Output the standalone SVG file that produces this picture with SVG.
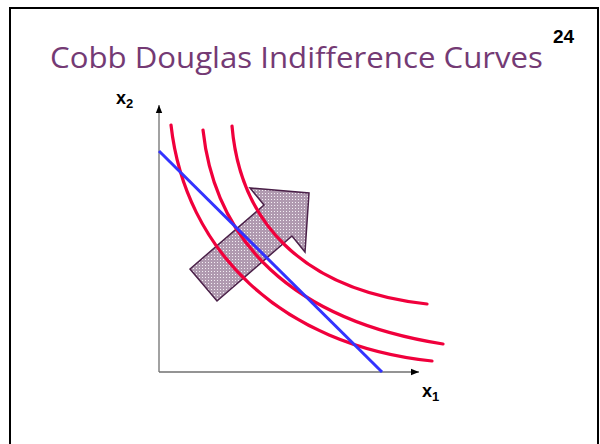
<svg xmlns="http://www.w3.org/2000/svg" width="600" height="444" viewBox="0 0 600 444">
<style>
.lbl{font-family:"Liberation Sans",Arial,sans-serif;font-weight:bold;fill:#000}
.ic{fill:none;stroke:#f0003c;stroke-width:3.2;stroke-linecap:round}
.axis{stroke:#707070;stroke-width:1.3;fill:none}
</style>
<defs>
<pattern id="dots" width="3" height="3" patternUnits="userSpaceOnUse">
<rect width="3" height="3" fill="#b09ab0"/>
<rect x="1" y="1" width="1" height="1" fill="#f4eef4"/>
</pattern>
<marker id="ah" viewBox="0 0 10 10" refX="10" refY="5" markerWidth="8" markerHeight="8" markerUnits="userSpaceOnUse" orient="auto">
<path d="M0,1 L10,5 L0,9 Z" fill="#000"/>
</marker>
</defs>
<rect width="600" height="444" fill="#fff"/>
<rect x="10" y="8" width="588" height="450" fill="none" stroke="#000" stroke-width="2"/>
<text x="50" y="68" font-family="'Open Sans','Liberation Sans',Arial,sans-serif" font-size="29" fill="#743a74" textLength="493" lengthAdjust="spacingAndGlyphs">Cobb Douglas Indifference Curves</text>
<text class="lbl" x="553" y="43" font-size="19">24</text>
<g id="axes">
<line class="axis" x1="159" y1="372" x2="159" y2="105" marker-end="url(#ah)"/>
<line class="axis" x1="159" y1="372" x2="419" y2="372" marker-end="url(#ah)"/>
<text class="lbl" x="116" y="104" font-size="18">x<tspan font-size="13" dy="4">2</tspan></text>
<text class="lbl" x="422" y="397" font-size="18">x<tspan font-size="13" dy="4">1</tspan></text>
</g>
<g id="bigarrow">
<polygon points="190,269 264,205 250,188 309,193 305,252 292,236 217,301" fill="url(#dots)" stroke="#4a2048" stroke-width="1.5" stroke-linejoin="miter"/>
</g>
<g id="curves">
<path id="ic1" class="ic" d="M171,125 C185,250 280,345 432,361"/>
<path id="ic2" class="ic" d="M203,130 C215,240 290,320 443,344"/>
<path id="ic3" class="ic" d="M232,126 C240,220 300,290 427,304"/>
</g>
<g id="budget">
<line x1="159" y1="151" x2="382" y2="372" stroke="#3333ff" stroke-width="3"/>
</g>
</svg>
